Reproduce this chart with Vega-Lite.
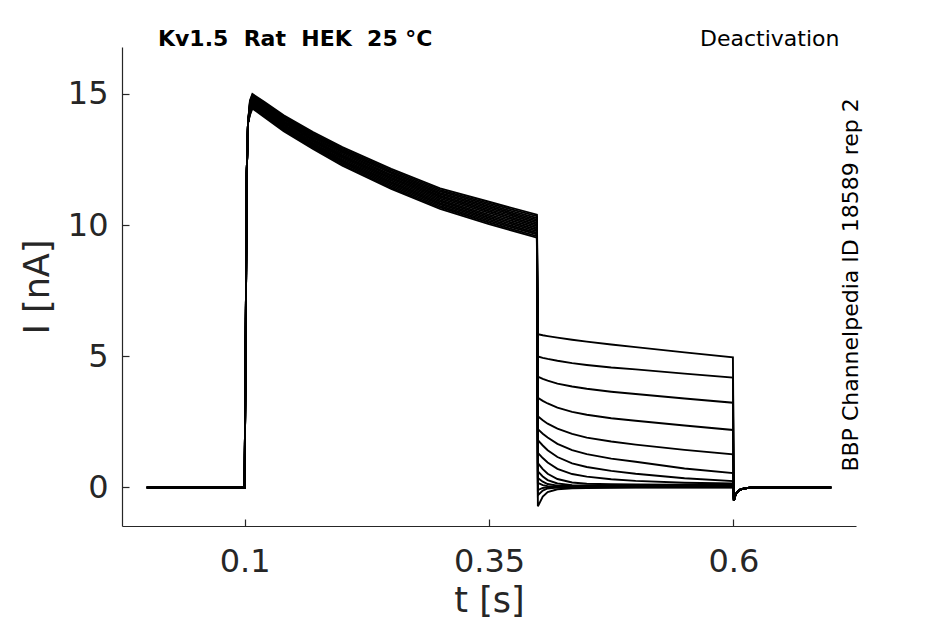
{
"$schema": "https://vega.github.io/schema/vega-lite/v6.json",
"width": 734, "height": 479,
"autosize": {"type": "none"},
"padding": {"left": 122, "top": 47, "right": 89, "bottom": 98},
"background": "white",
"config": {"view": {"stroke": null}, "font": "DejaVu Sans"},
"data": {"values": [
{"trace":1,"t":0,"i":0},{"trace":1,"t":0.1,"i":0},{"trace":1,"t":0.1012,"i":6},{"trace":1,"t":0.1022,"i":12},{"trace":1,"t":0.1035,"i":13.9},
{"trace":1,"t":0.1055,"i":14.75},{"trace":1,"t":0.108,"i":15.00},{"trace":1,"t":0.12,"i":14.70},{"trace":1,"t":0.14,"i":14.19},{"trace":1,"t":0.17,"i":13.55},{"trace":1,"t":0.2,"i":12.97},{"trace":1,"t":0.25,"i":12.14},{"trace":1,"t":0.3,"i":11.40},{"trace":1,"t":0.35,"i":10.89},{"trace":1,"t":0.399,"i":10.40},
{"trace":1,"t":0.4,"i":5.84},{"trace":1,"t":0.405,"i":5.80},{"trace":1,"t":0.41,"i":5.77},{"trace":1,"t":0.42,"i":5.71},{"trace":1,"t":0.435,"i":5.63},{"trace":1,"t":0.45,"i":5.56},{"trace":1,"t":0.475,"i":5.45},{"trace":1,"t":0.5,"i":5.35},{"trace":1,"t":0.55,"i":5.15},{"trace":1,"t":0.5995,"i":4.96},
{"trace":1,"t":0.6005,"i":-0.5},{"trace":1,"t":0.602,"i":-0.3},{"trace":1,"t":0.604,"i":-0.17},{"trace":1,"t":0.607,"i":-0.08},{"trace":1,"t":0.612,"i":-0.03},{"trace":1,"t":0.62,"i":0},{"trace":1,"t":0.7,"i":0},

{"trace":2,"t":0,"i":0},{"trace":2,"t":0.1,"i":0},{"trace":2,"t":0.1012,"i":6},{"trace":2,"t":0.1022,"i":12},{"trace":2,"t":0.1035,"i":13.9},
{"trace":2,"t":0.1055,"i":14.71},{"trace":2,"t":0.108,"i":14.96},{"trace":2,"t":0.12,"i":14.66},{"trace":2,"t":0.14,"i":14.15},{"trace":2,"t":0.17,"i":13.50},{"trace":2,"t":0.2,"i":12.92},{"trace":2,"t":0.25,"i":12.09},{"trace":2,"t":0.3,"i":11.34},{"trace":2,"t":0.35,"i":10.83},{"trace":2,"t":0.399,"i":10.34},
{"trace":2,"t":0.4,"i":4.99},{"trace":2,"t":0.405,"i":4.94},{"trace":2,"t":0.41,"i":4.90},{"trace":2,"t":0.42,"i":4.83},{"trace":2,"t":0.435,"i":4.74},{"trace":2,"t":0.45,"i":4.67},{"trace":2,"t":0.475,"i":4.57},{"trace":2,"t":0.5,"i":4.50},{"trace":2,"t":0.55,"i":4.34},{"trace":2,"t":0.5995,"i":4.19},
{"trace":2,"t":0.6005,"i":-0.5},{"trace":2,"t":0.602,"i":-0.3},{"trace":2,"t":0.604,"i":-0.17},{"trace":2,"t":0.607,"i":-0.08},{"trace":2,"t":0.612,"i":-0.03},{"trace":2,"t":0.62,"i":0},{"trace":2,"t":0.7,"i":0},

{"trace":3,"t":0,"i":0},{"trace":3,"t":0.1,"i":0},{"trace":3,"t":0.1012,"i":6},{"trace":3,"t":0.1022,"i":12},{"trace":3,"t":0.1035,"i":13.9},
{"trace":3,"t":0.1055,"i":14.67},{"trace":3,"t":0.108,"i":14.92},{"trace":3,"t":0.12,"i":14.62},{"trace":3,"t":0.14,"i":14.10},{"trace":3,"t":0.17,"i":13.46},{"trace":3,"t":0.2,"i":12.87},{"trace":3,"t":0.25,"i":12.03},{"trace":3,"t":0.3,"i":11.29},{"trace":3,"t":0.35,"i":10.77},{"trace":3,"t":0.399,"i":10.27},
{"trace":3,"t":0.4,"i":4.22},{"trace":3,"t":0.405,"i":4.14},{"trace":3,"t":0.41,"i":4.07},{"trace":3,"t":0.42,"i":3.96},{"trace":3,"t":0.435,"i":3.85},{"trace":3,"t":0.45,"i":3.76},{"trace":3,"t":0.475,"i":3.65},{"trace":3,"t":0.5,"i":3.56},{"trace":3,"t":0.55,"i":3.39},{"trace":3,"t":0.5995,"i":3.23},
{"trace":3,"t":0.6005,"i":-0.5},{"trace":3,"t":0.602,"i":-0.3},{"trace":3,"t":0.604,"i":-0.17},{"trace":3,"t":0.607,"i":-0.08},{"trace":3,"t":0.612,"i":-0.03},{"trace":3,"t":0.62,"i":0},{"trace":3,"t":0.7,"i":0},

{"trace":4,"t":0,"i":0},{"trace":4,"t":0.1,"i":0},{"trace":4,"t":0.1012,"i":6},{"trace":4,"t":0.1022,"i":12},{"trace":4,"t":0.1035,"i":13.9},
{"trace":4,"t":0.1055,"i":14.63},{"trace":4,"t":0.108,"i":14.88},{"trace":4,"t":0.12,"i":14.58},{"trace":4,"t":0.14,"i":14.06},{"trace":4,"t":0.17,"i":13.41},{"trace":4,"t":0.2,"i":12.82},{"trace":4,"t":0.25,"i":11.98},{"trace":4,"t":0.3,"i":11.23},{"trace":4,"t":0.35,"i":10.71},{"trace":4,"t":0.399,"i":10.21},
{"trace":4,"t":0.4,"i":3.42},{"trace":4,"t":0.405,"i":3.30},{"trace":4,"t":0.41,"i":3.20},{"trace":4,"t":0.42,"i":3.04},{"trace":4,"t":0.435,"i":2.88},{"trace":4,"t":0.45,"i":2.77},{"trace":4,"t":0.475,"i":2.64},{"trace":4,"t":0.5,"i":2.54},{"trace":4,"t":0.55,"i":2.36},{"trace":4,"t":0.5995,"i":2.19},
{"trace":4,"t":0.6005,"i":-0.5},{"trace":4,"t":0.602,"i":-0.3},{"trace":4,"t":0.604,"i":-0.17},{"trace":4,"t":0.607,"i":-0.08},{"trace":4,"t":0.612,"i":-0.03},{"trace":4,"t":0.62,"i":0},{"trace":4,"t":0.7,"i":0},

{"trace":5,"t":0,"i":0},{"trace":5,"t":0.1,"i":0},{"trace":5,"t":0.1012,"i":6},{"trace":5,"t":0.1022,"i":12},{"trace":5,"t":0.1035,"i":13.9},
{"trace":5,"t":0.1055,"i":14.59},{"trace":5,"t":0.108,"i":14.84},{"trace":5,"t":0.12,"i":14.53},{"trace":5,"t":0.14,"i":14.02},{"trace":5,"t":0.17,"i":13.36},{"trace":5,"t":0.2,"i":12.77},{"trace":5,"t":0.25,"i":11.92},{"trace":5,"t":0.3,"i":11.18},{"trace":5,"t":0.35,"i":10.65},{"trace":5,"t":0.399,"i":10.15},
{"trace":5,"t":0.4,"i":2.71},{"trace":5,"t":0.405,"i":2.56},{"trace":5,"t":0.41,"i":2.43},{"trace":5,"t":0.42,"i":2.24},{"trace":5,"t":0.435,"i":2.04},{"trace":5,"t":0.45,"i":1.90},{"trace":5,"t":0.475,"i":1.75},{"trace":5,"t":0.5,"i":1.63},{"trace":5,"t":0.55,"i":1.43},{"trace":5,"t":0.5995,"i":1.26},
{"trace":5,"t":0.6005,"i":-0.5},{"trace":5,"t":0.602,"i":-0.3},{"trace":5,"t":0.604,"i":-0.17},{"trace":5,"t":0.607,"i":-0.08},{"trace":5,"t":0.612,"i":-0.03},{"trace":5,"t":0.62,"i":0},{"trace":5,"t":0.7,"i":0},

{"trace":6,"t":0,"i":0},{"trace":6,"t":0.1,"i":0},{"trace":6,"t":0.1012,"i":6},{"trace":6,"t":0.1022,"i":12},{"trace":6,"t":0.1035,"i":13.9},
{"trace":6,"t":0.1055,"i":14.55},{"trace":6,"t":0.108,"i":14.80},{"trace":6,"t":0.12,"i":14.49},{"trace":6,"t":0.14,"i":13.97},{"trace":6,"t":0.17,"i":13.32},{"trace":6,"t":0.2,"i":12.72},{"trace":6,"t":0.25,"i":11.87},{"trace":6,"t":0.3,"i":11.12},{"trace":6,"t":0.35,"i":10.59},{"trace":6,"t":0.399,"i":10.09},
{"trace":6,"t":0.4,"i":2.22},{"trace":6,"t":0.405,"i":2.05},{"trace":6,"t":0.41,"i":1.90},{"trace":6,"t":0.42,"i":1.66},{"trace":6,"t":0.435,"i":1.42},{"trace":6,"t":0.45,"i":1.27},{"trace":6,"t":0.475,"i":1.10},{"trace":6,"t":0.5,"i":0.98},{"trace":6,"t":0.55,"i":0.72},{"trace":6,"t":0.5995,"i":0.55},
{"trace":6,"t":0.6005,"i":-0.5},{"trace":6,"t":0.602,"i":-0.3},{"trace":6,"t":0.604,"i":-0.17},{"trace":6,"t":0.607,"i":-0.08},{"trace":6,"t":0.612,"i":-0.03},{"trace":6,"t":0.62,"i":0},{"trace":6,"t":0.7,"i":0},

{"trace":7,"t":0,"i":0},{"trace":7,"t":0.1,"i":0},{"trace":7,"t":0.1012,"i":6},{"trace":7,"t":0.1022,"i":12},{"trace":7,"t":0.1035,"i":13.9},
{"trace":7,"t":0.1055,"i":14.51},{"trace":7,"t":0.108,"i":14.76},{"trace":7,"t":0.12,"i":14.45},{"trace":7,"t":0.14,"i":13.93},{"trace":7,"t":0.17,"i":13.27},{"trace":7,"t":0.2,"i":12.67},{"trace":7,"t":0.25,"i":11.81},{"trace":7,"t":0.3,"i":11.07},{"trace":7,"t":0.35,"i":10.53},{"trace":7,"t":0.399,"i":10.02},
{"trace":7,"t":0.4,"i":1.80},{"trace":7,"t":0.405,"i":1.60},{"trace":7,"t":0.41,"i":1.42},{"trace":7,"t":0.42,"i":1.16},{"trace":7,"t":0.435,"i":0.92},{"trace":7,"t":0.45,"i":0.78},{"trace":7,"t":0.475,"i":0.63},{"trace":7,"t":0.5,"i":0.52},{"trace":7,"t":0.55,"i":0.35},{"trace":7,"t":0.5995,"i":0.24},
{"trace":7,"t":0.6005,"i":-0.5},{"trace":7,"t":0.602,"i":-0.3},{"trace":7,"t":0.604,"i":-0.17},{"trace":7,"t":0.607,"i":-0.08},{"trace":7,"t":0.612,"i":-0.03},{"trace":7,"t":0.62,"i":0},{"trace":7,"t":0.7,"i":0},

{"trace":8,"t":0,"i":0},{"trace":8,"t":0.1,"i":0},{"trace":8,"t":0.1012,"i":6},{"trace":8,"t":0.1022,"i":12},{"trace":8,"t":0.1035,"i":13.9},
{"trace":8,"t":0.1055,"i":14.48},{"trace":8,"t":0.108,"i":14.73},{"trace":8,"t":0.12,"i":14.41},{"trace":8,"t":0.14,"i":13.89},{"trace":8,"t":0.17,"i":13.23},{"trace":8,"t":0.2,"i":12.62},{"trace":8,"t":0.25,"i":11.76},{"trace":8,"t":0.3,"i":11.01},{"trace":8,"t":0.35,"i":10.47},{"trace":8,"t":0.399,"i":9.96},
{"trace":8,"t":0.4,"i":1.32},{"trace":8,"t":0.405,"i":1.12},{"trace":8,"t":0.41,"i":0.95},{"trace":8,"t":0.42,"i":0.71},{"trace":8,"t":0.435,"i":0.51},{"trace":8,"t":0.45,"i":0.41},{"trace":8,"t":0.475,"i":0.31},{"trace":8,"t":0.5,"i":0.25},{"trace":8,"t":0.55,"i":0.18},{"trace":8,"t":0.5995,"i":0.15},
{"trace":8,"t":0.6005,"i":-0.5},{"trace":8,"t":0.602,"i":-0.3},{"trace":8,"t":0.604,"i":-0.17},{"trace":8,"t":0.607,"i":-0.08},{"trace":8,"t":0.612,"i":-0.03},{"trace":8,"t":0.62,"i":0},{"trace":8,"t":0.7,"i":0},

{"trace":9,"t":0,"i":0},{"trace":9,"t":0.1,"i":0},{"trace":9,"t":0.1012,"i":6},{"trace":9,"t":0.1022,"i":12},{"trace":9,"t":0.1035,"i":13.9},
{"trace":9,"t":0.1055,"i":14.44},{"trace":9,"t":0.108,"i":14.69},{"trace":9,"t":0.12,"i":14.37},{"trace":9,"t":0.14,"i":13.84},{"trace":9,"t":0.17,"i":13.18},{"trace":9,"t":0.2,"i":12.57},{"trace":9,"t":0.25,"i":11.71},{"trace":9,"t":0.3,"i":10.95},{"trace":9,"t":0.35,"i":10.40},{"trace":9,"t":0.399,"i":9.90},
{"trace":9,"t":0.4,"i":0.93},{"trace":9,"t":0.405,"i":0.70},{"trace":9,"t":0.41,"i":0.52},{"trace":9,"t":0.42,"i":0.32},{"trace":9,"t":0.435,"i":0.19},{"trace":9,"t":0.45,"i":0.14},{"trace":9,"t":0.475,"i":0.12},{"trace":9,"t":0.5,"i":0.11},{"trace":9,"t":0.55,"i":0.10},{"trace":9,"t":0.5995,"i":0.10},
{"trace":9,"t":0.6005,"i":-0.5},{"trace":9,"t":0.602,"i":-0.3},{"trace":9,"t":0.604,"i":-0.17},{"trace":9,"t":0.607,"i":-0.08},{"trace":9,"t":0.612,"i":-0.03},{"trace":9,"t":0.62,"i":0},{"trace":9,"t":0.7,"i":0},

{"trace":10,"t":0,"i":0},{"trace":10,"t":0.1,"i":0},{"trace":10,"t":0.1012,"i":6},{"trace":10,"t":0.1022,"i":12},{"trace":10,"t":0.1035,"i":13.9},
{"trace":10,"t":0.1055,"i":14.40},{"trace":10,"t":0.108,"i":14.65},{"trace":10,"t":0.12,"i":14.33},{"trace":10,"t":0.14,"i":13.80},{"trace":10,"t":0.17,"i":13.13},{"trace":10,"t":0.2,"i":12.52},{"trace":10,"t":0.25,"i":11.65},{"trace":10,"t":0.3,"i":10.90},{"trace":10,"t":0.35,"i":10.34},{"trace":10,"t":0.399,"i":9.83},
{"trace":10,"t":0.4,"i":0.61},{"trace":10,"t":0.405,"i":0.42},{"trace":10,"t":0.41,"i":0.28},{"trace":10,"t":0.42,"i":0.15},{"trace":10,"t":0.435,"i":0.09},{"trace":10,"t":0.45,"i":0.08},{"trace":10,"t":0.475,"i":0.08},{"trace":10,"t":0.5,"i":0.08},{"trace":10,"t":0.55,"i":0.08},{"trace":10,"t":0.5995,"i":0.08},
{"trace":10,"t":0.6005,"i":-0.5},{"trace":10,"t":0.602,"i":-0.3},{"trace":10,"t":0.604,"i":-0.17},{"trace":10,"t":0.607,"i":-0.08},{"trace":10,"t":0.612,"i":-0.03},{"trace":10,"t":0.62,"i":0},{"trace":10,"t":0.7,"i":0},

{"trace":11,"t":0,"i":0},{"trace":11,"t":0.1,"i":0},{"trace":11,"t":0.1012,"i":6},{"trace":11,"t":0.1022,"i":12},{"trace":11,"t":0.1035,"i":13.9},
{"trace":11,"t":0.1055,"i":14.36},{"trace":11,"t":0.108,"i":14.61},{"trace":11,"t":0.12,"i":14.29},{"trace":11,"t":0.14,"i":13.75},{"trace":11,"t":0.17,"i":13.09},{"trace":11,"t":0.2,"i":12.47},{"trace":11,"t":0.25,"i":11.60},{"trace":11,"t":0.3,"i":10.84},{"trace":11,"t":0.35,"i":10.28},{"trace":11,"t":0.399,"i":9.77},
{"trace":11,"t":0.4,"i":0.36},{"trace":11,"t":0.405,"i":0.22},{"trace":11,"t":0.41,"i":0.13},{"trace":11,"t":0.42,"i":0.07},{"trace":11,"t":0.435,"i":0.06},{"trace":11,"t":0.45,"i":0.06},{"trace":11,"t":0.475,"i":0.06},{"trace":11,"t":0.5,"i":0.06},{"trace":11,"t":0.55,"i":0.06},{"trace":11,"t":0.5995,"i":0.06},
{"trace":11,"t":0.6005,"i":-0.5},{"trace":11,"t":0.602,"i":-0.3},{"trace":11,"t":0.604,"i":-0.17},{"trace":11,"t":0.607,"i":-0.08},{"trace":11,"t":0.612,"i":-0.03},{"trace":11,"t":0.62,"i":0},{"trace":11,"t":0.7,"i":0},

{"trace":12,"t":0,"i":0},{"trace":12,"t":0.1,"i":0},{"trace":12,"t":0.1012,"i":6},{"trace":12,"t":0.1022,"i":12},{"trace":12,"t":0.1035,"i":13.9},
{"trace":12,"t":0.1055,"i":14.32},{"trace":12,"t":0.108,"i":14.57},{"trace":12,"t":0.12,"i":14.24},{"trace":12,"t":0.14,"i":13.71},{"trace":12,"t":0.17,"i":13.04},{"trace":12,"t":0.2,"i":12.42},{"trace":12,"t":0.25,"i":11.54},{"trace":12,"t":0.3,"i":10.79},{"trace":12,"t":0.35,"i":10.22},{"trace":12,"t":0.399,"i":9.71},
{"trace":12,"t":0.4,"i":0.17},{"trace":12,"t":0.405,"i":0.09},{"trace":12,"t":0.41,"i":0.05},{"trace":12,"t":0.42,"i":0.04},{"trace":12,"t":0.435,"i":0.04},{"trace":12,"t":0.45,"i":0.04},{"trace":12,"t":0.475,"i":0.04},{"trace":12,"t":0.5,"i":0.04},{"trace":12,"t":0.55,"i":0.04},{"trace":12,"t":0.5995,"i":0.04},
{"trace":12,"t":0.6005,"i":-0.5},{"trace":12,"t":0.602,"i":-0.3},{"trace":12,"t":0.604,"i":-0.17},{"trace":12,"t":0.607,"i":-0.08},{"trace":12,"t":0.612,"i":-0.03},{"trace":12,"t":0.62,"i":0},{"trace":12,"t":0.7,"i":0},

{"trace":13,"t":0,"i":0},{"trace":13,"t":0.1,"i":0},{"trace":13,"t":0.1012,"i":6},{"trace":13,"t":0.1022,"i":12},{"trace":13,"t":0.1035,"i":13.9},
{"trace":13,"t":0.1055,"i":14.28},{"trace":13,"t":0.108,"i":14.53},{"trace":13,"t":0.12,"i":14.20},{"trace":13,"t":0.14,"i":13.67},{"trace":13,"t":0.17,"i":12.99},{"trace":13,"t":0.2,"i":12.37},{"trace":13,"t":0.25,"i":11.49},{"trace":13,"t":0.3,"i":10.73},{"trace":13,"t":0.35,"i":10.16},{"trace":13,"t":0.399,"i":9.65},
{"trace":13,"t":0.4,"i":-0.10},{"trace":13,"t":0.405,"i":-0.02},{"trace":13,"t":0.41,"i":0.01},{"trace":13,"t":0.42,"i":0.02},{"trace":13,"t":0.435,"i":0.02},{"trace":13,"t":0.45,"i":0.02},{"trace":13,"t":0.475,"i":0.02},{"trace":13,"t":0.5,"i":0.02},{"trace":13,"t":0.55,"i":0.02},{"trace":13,"t":0.5995,"i":0.02},
{"trace":13,"t":0.6005,"i":-0.5},{"trace":13,"t":0.602,"i":-0.3},{"trace":13,"t":0.604,"i":-0.17},{"trace":13,"t":0.607,"i":-0.08},{"trace":13,"t":0.612,"i":-0.03},{"trace":13,"t":0.62,"i":0},{"trace":13,"t":0.7,"i":0},

{"trace":14,"t":0,"i":0},{"trace":14,"t":0.1,"i":0},{"trace":14,"t":0.1012,"i":6},{"trace":14,"t":0.1022,"i":12},{"trace":14,"t":0.1035,"i":13.9},
{"trace":14,"t":0.1055,"i":14.24},{"trace":14,"t":0.108,"i":14.49},{"trace":14,"t":0.12,"i":14.16},{"trace":14,"t":0.14,"i":13.62},{"trace":14,"t":0.17,"i":12.95},{"trace":14,"t":0.2,"i":12.32},{"trace":14,"t":0.25,"i":11.43},{"trace":14,"t":0.3,"i":10.68},{"trace":14,"t":0.35,"i":10.10},{"trace":14,"t":0.399,"i":9.58},
{"trace":14,"t":0.4,"i":-0.30},{"trace":14,"t":0.405,"i":-0.12},{"trace":14,"t":0.41,"i":-0.04},{"trace":14,"t":0.42,"i":0.00},{"trace":14,"t":0.435,"i":0.01},{"trace":14,"t":0.45,"i":0.01},{"trace":14,"t":0.475,"i":0.01},{"trace":14,"t":0.5,"i":0.01},{"trace":14,"t":0.55,"i":0.01},{"trace":14,"t":0.5995,"i":0.01},
{"trace":14,"t":0.6005,"i":-0.5},{"trace":14,"t":0.602,"i":-0.3},{"trace":14,"t":0.604,"i":-0.17},{"trace":14,"t":0.607,"i":-0.08},{"trace":14,"t":0.612,"i":-0.03},{"trace":14,"t":0.62,"i":0},{"trace":14,"t":0.7,"i":0},

{"trace":15,"t":0,"i":0},{"trace":15,"t":0.1,"i":0},{"trace":15,"t":0.1012,"i":6},{"trace":15,"t":0.1022,"i":12},{"trace":15,"t":0.1035,"i":13.9},
{"trace":15,"t":0.1055,"i":14.20},{"trace":15,"t":0.108,"i":14.45},{"trace":15,"t":0.12,"i":14.12},{"trace":15,"t":0.14,"i":13.58},{"trace":15,"t":0.17,"i":12.90},{"trace":15,"t":0.2,"i":12.27},{"trace":15,"t":0.25,"i":11.38},{"trace":15,"t":0.3,"i":10.62},{"trace":15,"t":0.35,"i":10.04},{"trace":15,"t":0.399,"i":9.52},
{"trace":15,"t":0.4,"i":-0.72},{"trace":15,"t":0.405,"i":-0.35},{"trace":15,"t":0.41,"i":-0.18},{"trace":15,"t":0.42,"i":-0.07},{"trace":15,"t":0.435,"i":-0.03},{"trace":15,"t":0.45,"i":-0.02},{"trace":15,"t":0.475,"i":-0.01},{"trace":15,"t":0.5,"i":0.00},{"trace":15,"t":0.55,"i":0.00},{"trace":15,"t":0.5995,"i":0.00},
{"trace":15,"t":0.6005,"i":-0.5},{"trace":15,"t":0.602,"i":-0.3},{"trace":15,"t":0.604,"i":-0.17},{"trace":15,"t":0.607,"i":-0.08},{"trace":15,"t":0.612,"i":-0.03},{"trace":15,"t":0.62,"i":0},{"trace":15,"t":0.7,"i":0}
]},
"layer": [
{
"mark": {"type": "line", "color": "black", "strokeWidth": 1.9},
"encoding": {
"x": {"field": "t", "type": "quantitative",
"scale": {"domain": [-0.0254, 0.7254], "nice": false, "zero": false},
"axis": {"values": [0.1, 0.35, 0.6], "format": "~g", "title": "t [s]", "grid": false,
"tickSize": -7, "labelPadding": 27, "labelFontSize": 32, "titleFontSize": 35,
"labelFont": "DejaVu Sans", "titleFont": "DejaVu Sans", "titleFontWeight": "normal",
"labelColor": "#262626", "titleColor": "#262626", "domainColor": "#262626", "tickColor": "#262626",
"domainWidth": 1.2, "tickWidth": 1.2, "titlePadding": 6, "labelFlush": false}},
"y": {"field": "i", "type": "quantitative",
"scale": {"domain": [-1.47, 16.79], "nice": false, "zero": false},
"axis": {"values": [0, 5, 10, 15], "format": "~g", "title": "I [nA]", "grid": false,
"tickSize": -7, "labelPadding": 21, "labelFontSize": 32, "titleFontSize": 35,
"labelFont": "DejaVu Sans", "titleFont": "DejaVu Sans", "titleFontWeight": "normal",
"labelColor": "#262626", "titleColor": "#262626", "domainColor": "#262626", "tickColor": "#262626",
"domainWidth": 1.2, "tickWidth": 1.2, "titlePadding": 12, "labelFlush": false}},
"detail": {"field": "trace", "type": "nominal"}
}
},
{
"data": {"values": [{}]},
"mark": {"type": "text", "text": "Kv1.5 \u00a0Rat \u00a0HEK \u00a025 °C", "font": "DejaVu Sans", "fontSize": 22, "fontWeight": "bold", "align": "left", "baseline": "alphabetic", "color": "black"},
"encoding": {"x": {"datum": 0.0114, "type": "quantitative"}, "y": {"datum": 16.81, "type": "quantitative"}}
},
{
"data": {"values": [{}]},
"mark": {"type": "text", "text": "Deactivation", "font": "DejaVu Sans", "fontSize": 22, "align": "right", "baseline": "alphabetic", "color": "black"},
"encoding": {"x": {"datum": 0.7085, "type": "quantitative"}, "y": {"datum": 16.84, "type": "quantitative"}}
},
{
"data": {"values": [{}]},
"mark": {"type": "text", "text": "BBP Channelpedia ID 18589 rep 2", "font": "DejaVu Sans", "fontSize": 22, "angle": 270, "align": "center", "baseline": "alphabetic", "color": "black"},
"encoding": {"x": {"datum": 0.7274, "type": "quantitative"}, "y": {"datum": 7.72, "type": "quantitative"}}
}
]
}
